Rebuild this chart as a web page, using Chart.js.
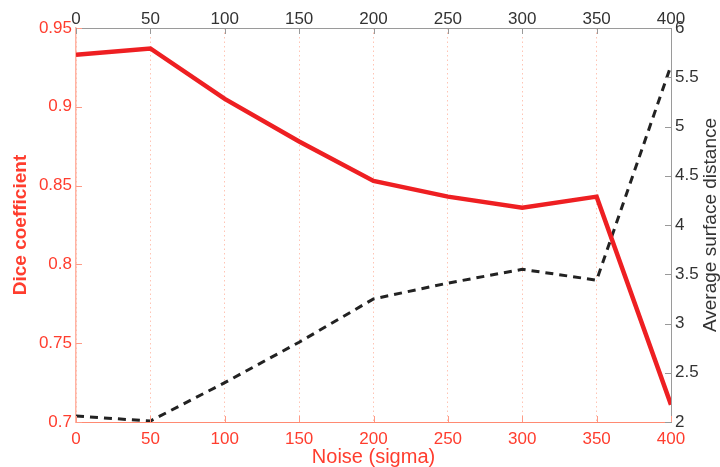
<!DOCTYPE html>
<html>
<head>
<meta charset="utf-8">
<script src="https://cdn.jsdelivr.net/npm/chart.js@4"></script>
<style>
  body { margin: 0; background: #fff; }
</style>
</head>
<body>
<canvas id="myChart" width="720" height="467"></canvas>
<script>
// noise levels (sigma) on the x axis
const noise = [0, 50, 100, 150, 200, 250, 300, 350, 400];
// left axis: dice coefficient (red solid)
const dice = [0.933, 0.937, 0.905, 0.878, 0.853, 0.843, 0.836, 0.843, 0.711];
// right axis: average surface distance (black dashed)
const asd = [2.06, 2.01, 2.40, 2.81, 3.25, 3.41, 3.55, 3.44, 5.62];

const RED = '#ff3d2e';
const GREY = '#333333';

// small inward tick marks, like the matlab look
const innerTicks = {
    id: 'innerTicks',
    afterDraw(chart) {
        const c = chart.ctx;
        const a = chart.chartArea;
        const s = chart.scales;
        c.save();
        c.lineWidth = 1;
        c.strokeStyle = '#ff9a86';
        s.y.ticks.forEach(t => {
            const y = Math.round(s.y.getPixelForValue(t.value)) + 0.5;
            c.beginPath(); c.moveTo(a.left, y); c.lineTo(a.left + 6, y); c.stroke();
        });
        s.x.ticks.forEach(t => {
            const x = Math.round(s.x.getPixelForValue(t.value)) + 0.5;
            c.beginPath(); c.moveTo(x, a.bottom); c.lineTo(x, a.bottom - 6); c.stroke();
        });
        c.strokeStyle = '#999999';
        s.y2.ticks.forEach(t => {
            const y = Math.round(s.y2.getPixelForValue(t.value)) + 0.5;
            c.beginPath(); c.moveTo(a.right, y); c.lineTo(a.right - 6, y); c.stroke();
        });
        s.x2.ticks.forEach(t => {
            const x = Math.round(s.x2.getPixelForValue(t.value)) + 0.5;
            c.beginPath(); c.moveTo(x, a.top); c.lineTo(x, a.top + 6); c.stroke();
        });
        // right axis title reads bottom to top
        c.fillStyle = GREY;
        c.font = '19px "Liberation Sans", Arial, sans-serif';
        c.textAlign = 'center';
        c.textBaseline = 'middle';
        c.translate(711, (a.top + a.bottom) / 2);
        c.rotate(-Math.PI / 2);
        c.fillText('Average surface distance', 0, 0);
        c.restore();
    }
};

const fmt = v => String(Number(v.toFixed(2)));

const data = {
    datasets: [{
        label: 'Dice coefficient',
        data: noise.map((n, i) => ({ x: n, y: dice[i] })),
        xAxisID: 'x',
        yAxisID: 'y',
        borderColor: '#ee1f22',
        borderWidth: 4.5,
        pointRadius: 0,
        fill: false,
        tension: 0
    }, {
        label: 'Average surface distance',
        data: noise.map((n, i) => ({ x: n, y: asd[i] })),
        xAxisID: 'x',
        yAxisID: 'y2',
        borderColor: '#222222',
        borderWidth: 3,
        borderDash: [8, 6],
        pointRadius: 0,
        fill: false,
        tension: 0
    }]
};

const config = {
    type: 'line',
    data: data,
    options: {
        responsive: false,
        animation: false,
        layout: { padding: 0 },
        plugins: { legend: { display: false }, tooltip: { enabled: false } },
        font: { family: '"Liberation Sans", Arial, sans-serif' },
        scales: {
            x: {
                type: 'linear', position: 'bottom', min: 0, max: 400,
                afterFit: s => { s.height = 45; },
                ticks: { stepSize: 50, color: RED, padding: 7, maxRotation: 0,
                         font: { size: 17, family: '"Liberation Sans", Arial, sans-serif' } },
                grid: { display: true, color: '#ffc4b4', lineWidth: 1, drawTicks: false },
                border: { display: true, color: '#ff8a72', width: 1, dash: [1.5, 3] },
                title: { display: true, text: 'Noise (sigma)', color: RED, padding: 0,
                         font: { size: 20, lineHeight: 1, family: '"Liberation Sans", Arial, sans-serif' } }
            },
            x2: {
                type: 'linear', position: 'top', min: 0, max: 400,
                afterFit: s => { s.height = 28; },
                ticks: { stepSize: 50, color: GREY, padding: -2, maxRotation: 0,
                         font: { size: 17, family: '"Liberation Sans", Arial, sans-serif' } },
                grid: { display: false, drawTicks: false },
                border: { display: true, color: '#9a9a9a', width: 1 }
            },
            y: {
                type: 'linear', position: 'left', min: 0.7, max: 0.95,
                afterFit: s => { s.width = 76; },
                ticks: { stepSize: 0.05, color: RED, padding: 4, callback: fmt,
                         font: { size: 17, family: '"Liberation Sans", Arial, sans-serif' } },
                grid: { display: false, drawTicks: false },
                border: { display: true, color: '#ffb3a3', width: 1.5 },
                title: { display: true, text: 'Dice coefficient', color: RED, padding: { top: 9, bottom: 0 },
                         font: { size: 19, weight: 'bold', family: '"Liberation Sans", Arial, sans-serif' } }
            },
            y2: {
                type: 'linear', position: 'right', min: 2, max: 6,
                afterFit: s => { s.width = 49; },
                ticks: { stepSize: 0.5, color: GREY, padding: 4, callback: fmt,
                         font: { size: 17, family: '"Liberation Sans", Arial, sans-serif' } },
                grid: { display: false, drawTicks: false },
                border: { display: true, color: '#9a9a9a', width: 1 }
            }
        }
    },
    plugins: [innerTicks]
};

const ctx = document.getElementById('myChart').getContext('2d');
const myChart = new Chart(ctx, config);
</script>
</body>
</html>
